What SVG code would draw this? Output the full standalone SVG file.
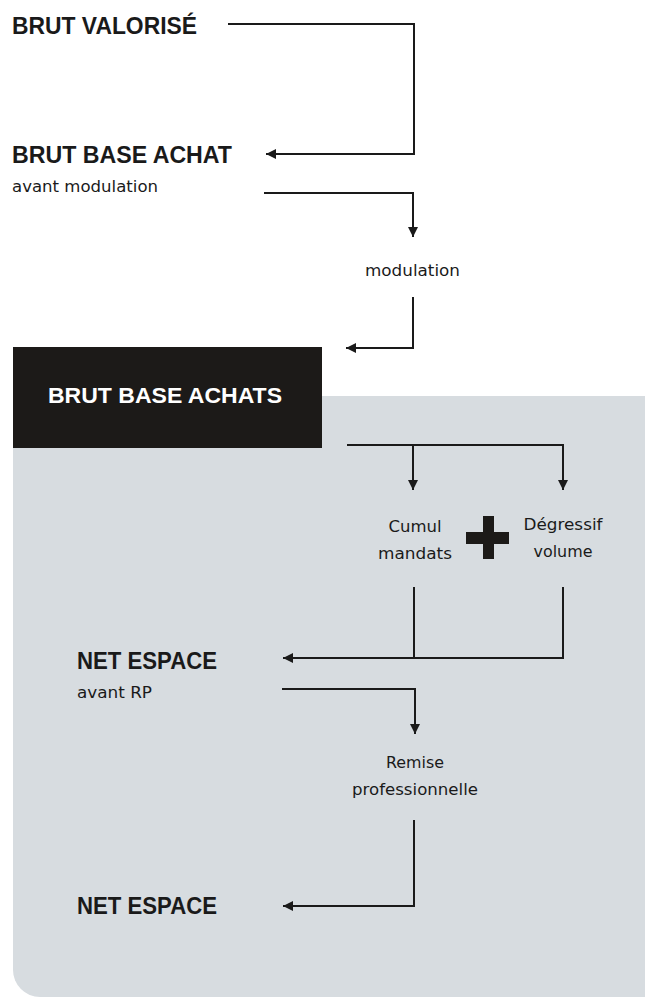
<svg xmlns="http://www.w3.org/2000/svg" width="645" height="998" viewBox="0 0 645 998">
<style>
.title{font-family:"Liberation Sans",Arial,sans-serif;font-weight:bold;fill:#1a1a1a}
.small{font-family:"DejaVu Sans","Liberation Sans",sans-serif;font-size:16.5px;fill:#1a1a1a}
.c{text-anchor:middle}
.conn{fill:none;stroke:#1a1a1a;stroke-width:2}
</style>
<defs>
<marker id="ah" markerUnits="userSpaceOnUse" markerWidth="11" markerHeight="11" refX="10" refY="5" orient="auto">
<path d="M0,0 L10,5 L0,10 z" fill="#1a1a1a"/>
</marker>
</defs>
<rect id="panel" x="13" y="396" width="670" height="601" rx="27" ry="27" fill="#d7dce0"/>
<g id="brut-valorise">
<text class="title" x="12" y="34" font-size="24" textLength="185" lengthAdjust="spacingAndGlyphs">BRUT VALORISÉ</text>
</g>
<g id="brut-base-achat">
<text class="title" x="12" y="163" font-size="24" textLength="220" lengthAdjust="spacingAndGlyphs">BRUT BASE ACHAT</text>
<text class="small" x="12" y="192" textLength="146" lengthAdjust="spacingAndGlyphs">avant modulation</text>
</g>
<g id="modulation">
<text class="small" x="365" y="276" textLength="95" lengthAdjust="spacingAndGlyphs">modulation</text>
</g>
<g id="brut-base-achats">
<rect x="13" y="347" width="309" height="101" fill="#1c1a18"/>
<text class="title" x="48" y="403" font-size="22" fill="#ffffff" style="fill:#ffffff" textLength="234" lengthAdjust="spacingAndGlyphs">BRUT BASE ACHATS</text>
</g>
<g id="cumul-mandats">
<text class="small c" x="415" y="532">Cumul</text>
<text class="small c" x="415" y="559" textLength="74" lengthAdjust="spacingAndGlyphs">mandats</text>
</g>
<g id="plus">
<rect x="483" y="516" width="11" height="43" fill="#1c1a18"/>
<rect x="466" y="532" width="43" height="12" fill="#1c1a18"/>
</g>
<g id="degressif-volume">
<text class="small c" x="563" y="530" textLength="79" lengthAdjust="spacingAndGlyphs">Dégressif</text>
<text class="small c" x="563" y="557" textLength="59" lengthAdjust="spacingAndGlyphs">volume</text>
</g>
<g id="net-espace-avant-rp">
<text class="title" x="77" y="669" font-size="24" textLength="140" lengthAdjust="spacingAndGlyphs">NET ESPACE</text>
<text class="small" x="77" y="698" textLength="75" lengthAdjust="spacingAndGlyphs">avant RP</text>
</g>
<g id="remise">
<text class="small c" x="415" y="768" textLength="58" lengthAdjust="spacingAndGlyphs">Remise</text>
<text class="small c" x="415" y="795" textLength="126" lengthAdjust="spacingAndGlyphs">professionnelle</text>
</g>
<g id="net-espace">
<text class="title" x="77" y="914" font-size="24" textLength="140" lengthAdjust="spacingAndGlyphs">NET ESPACE</text>
</g>
<g id="connectors">
<path class="conn" d="M228,24 H414 V154 H266" marker-end="url(#ah)"/>
<path class="conn" d="M264,193 H413 V237" marker-end="url(#ah)"/>
<path class="conn" d="M413,297 V348 H346" marker-end="url(#ah)"/>
<path class="conn" d="M347,445 H563 V490" marker-end="url(#ah)"/>
<path class="conn" d="M413,445 V490" marker-end="url(#ah)"/>
<path class="conn" d="M414,587 V658"/>
<path class="conn" d="M563,587 V658 H283" marker-end="url(#ah)"/>
<path class="conn" d="M282,689 H415 V734" marker-end="url(#ah)"/>
<path class="conn" d="M414,820 V906 H283" marker-end="url(#ah)"/>
</g>
</svg>
